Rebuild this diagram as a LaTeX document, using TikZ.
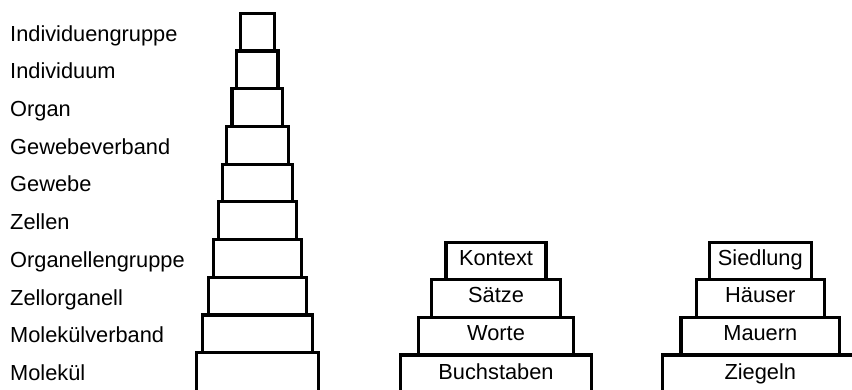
\documentclass[tikz,border=0pt]{standalone}
\usepackage{fontspec}
\setmainfont{Liberation Sans}
\usepackage{tikz}
\usetikzlibrary{positioning}
\tikzset{
  stufe/.style={draw,line width=3.2pt,rectangle,inner sep=0pt,outer sep=0pt,
    minimum height=37.6pt,font=\fontsize{21.8}{24}\selectfont,
    text height=0.86em,text depth=0pt},
  ebene/.style={anchor=base west,inner sep=0pt,font=\fontsize{21.8}{24}\selectfont}
}

\begin{document}
\begin{tikzpicture}[x=1pt,y=-1pt]
        \useasboundingbox (0,0) rectangle (852,390);
        \clip (0,0) rectangle (852,390);
        % biologische Ebenen
        \foreach \i/\w/\h/\name in {1/33.4/37.7/Individuengruppe,2/41.3/37.7/Individuum,
            3/50.7/37.7/Organ,4/61.6/37.7/Gewebeverband,5/70.3/37.7/Gewebe,
            6/78.3/37.7/Zellen,7/87.7/37.7/Organellengruppe,8/98.3/37.7/Zellorganell,
            9/109.7/37.7/Molekülverband,10/122/42/Molekül}{
          \node[stufe,anchor=north,minimum width=\w pt,minimum height=\h pt] (bio\i)
            at (257.4,{13.4+(\i-1)*37.7}) {};
          \node[ebene] (lab\i) at (10,{13.4+(\i-1)*37.7+27.8}) {\name};
        }
        % Sprache
        \node[stufe,anchor=north,minimum width=190.3pt,minimum height=40pt] (buch) at (496,355) {Buchstaben};
        \node[stufe,minimum width=154.6pt,above=0pt of buch] (worte) {Worte};
        \node[stufe,minimum width=129pt,above=0pt of worte] (saetze) {Sätze};
        \node[stufe,minimum width=100pt,above=0pt of saetze] (kontext) {Kontext};
        % Bauwerk
        \node[stufe,anchor=north,minimum width=195pt,minimum height=40pt] (ziegel) at (760.3,355) {Ziegeln};
        \node[stufe,minimum width=158.7pt,above=0pt of ziegel] (mauer) {Mauern};
        \node[stufe,minimum width=128.4pt,above=0pt of mauer] (haus) {Häuser};
        \node[stufe,minimum width=102pt,above=0pt of haus] (siedlung) {Siedlung};
      \end{tikzpicture}
\end{document}
